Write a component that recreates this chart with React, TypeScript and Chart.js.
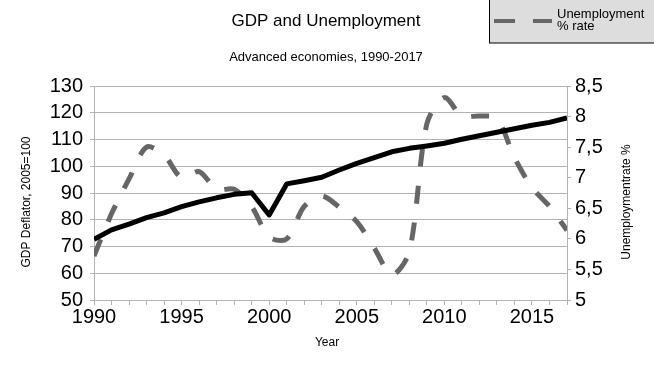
import React, { useEffect, useRef } from "react";
import { Chart, registerables } from "chart.js";

Chart.register(...registerables);

const years: number[] = [
  1990, 1991, 1992, 1993, 1994, 1995, 1996, 1997, 1998, 1999, 2000, 2001, 2002, 2003,
  2004, 2005, 2006, 2007, 2008, 2009, 2010, 2011, 2012, 2013, 2014, 2015, 2016, 2017,
];
const gdpDeflator: number[] = [
  72.7, 76.2, 78.4, 80.8, 82.6, 84.9, 86.7, 88.2, 89.5, 90.1, 81.8, 93.4, 94.6, 95.9,
  98.6, 101.1, 103.2, 105.4, 106.7, 107.6, 108.6, 110.1, 111.4, 112.7, 114.0, 115.3, 116.4, 118.1,
];
const unemploymentRate: number[] = [
  5.72, 6.41, 6.98, 7.5, 7.37, 7.0, 7.1, 6.81, 6.81, 6.53, 6.03, 6.0, 6.53, 6.7,
  6.52, 6.28, 5.85, 5.41, 5.79, 7.88, 8.31, 8.01, 8.01, 7.97, 7.33, 6.84, 6.53, 6.14,
];

const TITLE = "GDP and Unemployment";
const SUBTITLE = "Advanced economies, 1990-2017";
const LEFT_TITLE = "GDP Deflator, 2005=100";
const RIGHT_TITLE = "Unemploymentrate %";
const X_TITLE = "Year";
const LEGEND_LINES = ["Unemployment", "% rate"];

const FONT = "'Liberation Sans', Arial, sans-serif";
const GRID = "#b3b3b3";

const decorPlugin = {
  id: "decor",
  afterDraw(chart: any) {
    const ctx = chart.ctx as CanvasRenderingContext2D;
    ctx.save();
    ctx.fillStyle = "#000";
    ctx.textAlign = "center";
    ctx.textBaseline = "middle";
    ctx.font = `17px ${FONT}`;
    ctx.fillText(TITLE, 326, 21);
    ctx.font = `13px ${FONT}`;
    ctx.fillText(SUBTITLE, 326, 57);

    ctx.font = `12px ${FONT}`;
    ctx.fillText(X_TITLE, 327, 343);
    const midY = 202;
    ctx.save();
    ctx.translate(27, midY);
    ctx.rotate(-Math.PI / 2);
    ctx.fillText(LEFT_TITLE, 0, 0);
    ctx.restore();
    ctx.save();
    ctx.translate(627, midY);
    ctx.rotate(-Math.PI / 2);
    ctx.fillText(RIGHT_TITLE, 0, 0);
    ctx.restore();

    // legend box
    ctx.fillStyle = "#dddddd";
    ctx.fillRect(489.5, 0, 170, 43);
    ctx.strokeStyle = "#000";
    ctx.lineWidth = 1;
    ctx.strokeRect(489.5, -1, 170, 44);
    ctx.fillStyle = "#666666";
    ctx.fillRect(494, 19, 21, 4);
    ctx.fillRect(533, 19, 19, 4);
    ctx.fillStyle = "#000";
    ctx.textAlign = "left";
    ctx.font = `13px ${FONT}`;
    ctx.fillText(LEGEND_LINES[0], 557, 14);
    ctx.fillText(LEGEND_LINES[1], 557, 26);
    ctx.restore();
  },
};

export default function App() {
  const ref = useRef<HTMLCanvasElement | null>(null);
  useEffect(() => {
    document.body.style.margin = "0";
    if (!ref.current) return;
    const chart = new Chart(ref.current, {
      type: "line",
      data: {
        datasets: [
          {
            label: "GDP Deflator",
            data: years.map((y, i) => ({ x: y, y: gdpDeflator[i] })),
            borderColor: "#000000",
            borderWidth: 5,
            pointRadius: 0,
            tension: 0,
            borderJoinStyle: "round",
            yAxisID: "y",
          },
          {
            label: "Unemployment % rate",
            data: years.map((y, i) => ({ x: y, y: unemploymentRate[i] })),
            borderColor: "#666666",
            borderWidth: 5,
            borderDash: [18, 19],
            pointRadius: 0,
            tension: 0.3,
            yAxisID: "y1",
          },
        ],
      },
      options: {
        animation: false,
        responsive: false,
        maintainAspectRatio: false,
        layout: { padding: { top: 86, left: 0, right: 0, bottom: 0 } },
        plugins: {
          legend: { display: false },
          title: { display: false },
          tooltip: { enabled: false },
        },
        scales: {
          x: {
            type: "linear",
            min: 1990,
            max: 2017,
            afterFit: (s: any) => {
              s.height = 71;
            },
            ticks: {
              stepSize: 1,
              autoSkip: false,
              maxRotation: 0,
              padding: 0,
              color: "#000",
              font: { family: FONT, size: 20 },
              callback: (v: any) => (Number(v) % 5 === 0 ? String(v) : ""),
            },
            grid: { drawOnChartArea: false, drawTicks: true, tickLength: 5, color: GRID },
            border: { color: GRID },
          },
          y: {
            position: "left",
            min: 50,
            max: 130,
            afterFit: (s: any) => {
              s.width = 94;
            },
            ticks: {
              stepSize: 10,
              autoSkip: false,
              padding: 7,
              color: "#000",
              font: { family: FONT, size: 20 },
            },
            grid: { color: GRID, tickLength: 4 },
            border: { color: GRID },
          },
          y1: {
            position: "right",
            min: 5,
            max: 8.5,
            afterFit: (s: any) => {
              s.width = 87;
            },
            ticks: {
              stepSize: 0.5,
              autoSkip: false,
              padding: 4,
              color: "#000",
              font: { family: FONT, size: 20 },
              callback: (v: any) => String(v).replace(".", ","),
            },
            grid: { drawOnChartArea: false, color: GRID, tickLength: 4 },
            border: { color: GRID },
          },
        },
      },
      plugins: [decorPlugin],
    } as any);
    return () => chart.destroy();
  }, []);
  return (
    <div style={{ width: 654, height: 371, background: "#fff" }}>
      <canvas ref={ref} width={654} height={371} style={{ display: "block" }} />
    </div>
  );
}
